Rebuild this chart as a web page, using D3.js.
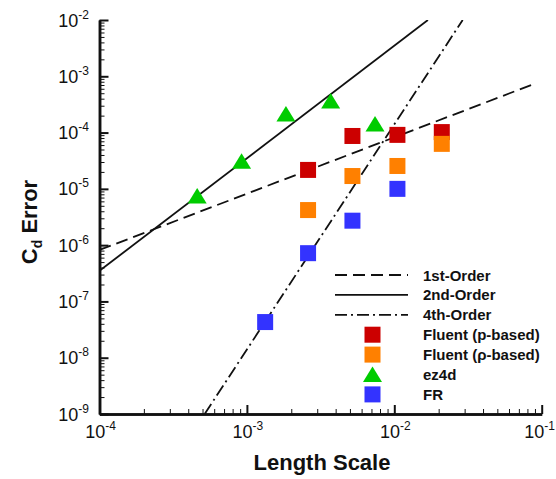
<!DOCTYPE html>
<html lang="en">
<head>
    <meta charset="UTF-8">
    <title>Cd Error vs Length Scale</title>
    <script src="https://cdnjs.cloudflare.com/ajax/libs/d3/7.8.5/d3.min.js"></script>
    <style>
        body { margin: 0; background: #fff; }
        text { font-family: "Liberation Sans", Arial, sans-serif; fill: #111; }
        .tick-label { font-size: 18px; }
        .axis-title { font-size: 22px; font-weight: bold; }
        .legend text { font-size: 15px; font-weight: bold; }
        .ref { fill: none; stroke: #111; stroke-width: 1.8px; }
    </style>
</head>
<body>
    <svg width="556" height="479"></svg>
    <script>
        // data
        const fluentP = [[2.6e-3, 2.17e-5], [5.2e-3, 8.7e-5], [1.05e-2, 9.1e-5], [2.1e-2, 1.02e-4]];
        const fluentRho = [[2.6e-3, 4.2e-6], [5.2e-3, 1.69e-5], [1.05e-2, 2.55e-5], [2.1e-2, 6.3e-5]];
        const ez4d = [[4.6e-4, 7.5e-6], [9.2e-4, 3.1e-5], [1.84e-3, 2.14e-4], [3.7e-3, 3.64e-4], [7.4e-3, 1.42e-4]];
        const fr = [[1.33e-3, 4.3e-8], [2.6e-3, 7.2e-7], [5.2e-3, 2.72e-6], [1.05e-2, 1.0e-5]];

        // reference slopes, endpoints
        const firstOrder = [[1e-4, 8.2e-7], [8.5e-2, 7.0e-4]];
        const secondOrder = [[1e-4, 3.5e-7], [1.69e-2, 1e-2]];
        const fourthOrder = [[5.17e-4, 1e-9], [2.91e-2, 1e-2]];

        const xTickExps = [-4, -3, -2, -1];
        const yTickExps = [-9, -8, -7, -6, -5, -4, -3, -2];
        const legendLabels = ["1st-Order", "2nd-Order", "4th-Order", "Fluent (p-based)", "Fluent (\u03c1-based)", "ez4d", "FR"];

        const svg = d3.select("svg");
        const m = { left: 99.5, right: 541.7, top: 20, bottom: 414 };

        const x = d3.scaleLog().domain([1e-4, 1e-1]).range([m.left, m.right]);
        const y = d3.scaleLog().domain([1e-9, 1e-2]).range([m.bottom, m.top]);

        // minor ticks 2..9 per decade
        function minors(lo, hi) {
            const out = [];
            for (let e = lo; e < hi; e++)
                for (let k = 2; k <= 9; k++) out.push(k * Math.pow(10, e));
            return out;
        }

        const xMinor = d3.axisBottom(x).tickValues(minors(-4, -1)).tickSizeInner(-5).tickSizeOuter(0).tickFormat("");
        const xMajor = d3.axisBottom(x).tickValues(xTickExps.map(e => Math.pow(10, e))).tickSizeInner(-9).tickSizeOuter(0).tickFormat("");
        const yMinor = d3.axisLeft(y).tickValues(minors(-9, -2)).tickSizeInner(-5).tickSizeOuter(0).tickFormat("");
        const yMajor = d3.axisLeft(y).tickValues(yTickExps.map(e => Math.pow(10, e))).tickSizeInner(-9).tickSizeOuter(0).tickFormat("");

        [[xMinor, "x"], [xMajor, "x"], [yMinor, "y"], [yMajor, "y"]].forEach(([ax, k]) => {
            const g = svg.append("g")
                .attr("transform", k === "x" ? `translate(0,${m.bottom})` : `translate(${m.left},0)`)
                .call(ax);
            g.selectAll("line").attr("stroke", "#111").attr("stroke-width", ax === xMajor || ax === yMajor ? 2 : 1);
            g.select(".domain").attr("stroke", "#111").attr("stroke-width", 2.5);
        });

        // tick labels 10^n
        function powLabel(sel, e) {
            sel.append("tspan").text("10");
            sel.append("tspan").attr("dy", -8).attr("font-size", 12).text(e);
        }
        xTickExps.forEach((e, i) => {
            const last = i === xTickExps.length - 1;
            svg.append("text").attr("class", "tick-label")
                .attr("x", last ? 555 : x(Math.pow(10, e)) + 1).attr("y", 438)
                .attr("text-anchor", last ? "end" : "middle")
                .call(powLabel, e);
        });
        yTickExps.forEach(e => {
            svg.append("text").attr("class", "tick-label")
                .attr("x", 89).attr("y", y(Math.pow(10, e)) + 6.5)
                .attr("text-anchor", "end")
                .call(powLabel, e);
        });

        // axis titles
        svg.append("text").attr("class", "axis-title")
            .attr("x", 322).attr("y", 470).attr("text-anchor", "middle")
            .text("Length Scale");
        const yt = svg.append("text").attr("class", "axis-title")
            .attr("transform", "translate(37,222) rotate(-90)")
            .attr("text-anchor", "middle");
        yt.append("tspan").text("C");
        yt.append("tspan").attr("dy", 5).attr("font-size", 14).text("d");
        yt.append("tspan").attr("dy", -5).text(" Error");

        // reference lines
        svg.append("clipPath").attr("id", "plot")
            .append("rect").attr("x", m.left).attr("y", m.top).attr("width", m.right - m.left).attr("height", m.bottom - m.top);
        const line = d3.line().x(d => x(d[0])).y(d => y(d[1]));
        const dashes = ["12,6", null, "12,4,2,4"];
        const plot = svg.append("g").attr("clip-path", "url(#plot)");
        [firstOrder, secondOrder, fourthOrder].forEach((d, i) => {
            plot.append("path").attr("class", "ref").attr("d", line(d))
                .attr("stroke-dasharray", dashes[i]);
        });

        // markers
        const sq = 16;
        function squares(data, color) {
            svg.append("g").selectAll("rect").data(data).join("rect")
                .attr("x", d => x(d[0]) - sq / 2).attr("y", d => y(d[1]) - sq / 2)
                .attr("width", sq).attr("height", sq)
                .attr("fill", color);
        }
        function triPath(cx, cy) {
            return `M${cx},${cy - 8}L${cx + 9.5},${cy + 7.5}L${cx - 9.5},${cy + 7.5}Z`;
        }
        squares(fluentP, "#cc0000");
        squares(fluentRho, "#ff8000");
        svg.append("g").selectAll("path").data(ez4d).join("path")
            .attr("d", d => triPath(x(d[0]), y(d[1])))
            .attr("fill", "#00cc00");
        squares(fr, "#3333ff");

        // legend
        const leg = svg.append("g").attr("class", "legend");
        const rowY = i => 275 + i * 19.9;
        const colors = ["#cc0000", "#ff8000", "#00cc00", "#3333ff"];
        legendLabels.forEach((lab, i) => {
            const cy = rowY(i);
            if (i < 3) {
                leg.append("line").attr("class", "ref")
                    .attr("x1", 335).attr("x2", 408).attr("y1", cy).attr("y2", cy)
                    .attr("stroke-dasharray", dashes[i]);
            } else if (lab === "ez4d") {
                leg.append("path").attr("d", triPath(372.5, cy)).attr("fill", colors[i - 3]);
            } else {
                leg.append("rect").attr("x", 372.5 - sq / 2).attr("y", cy - sq / 2)
                    .attr("width", sq).attr("height", sq).attr("fill", colors[i - 3]);
            }
            leg.append("text").attr("x", 423).attr("y", cy + 5.5).text(lab);
        });
    </script>
</body>
</html>
